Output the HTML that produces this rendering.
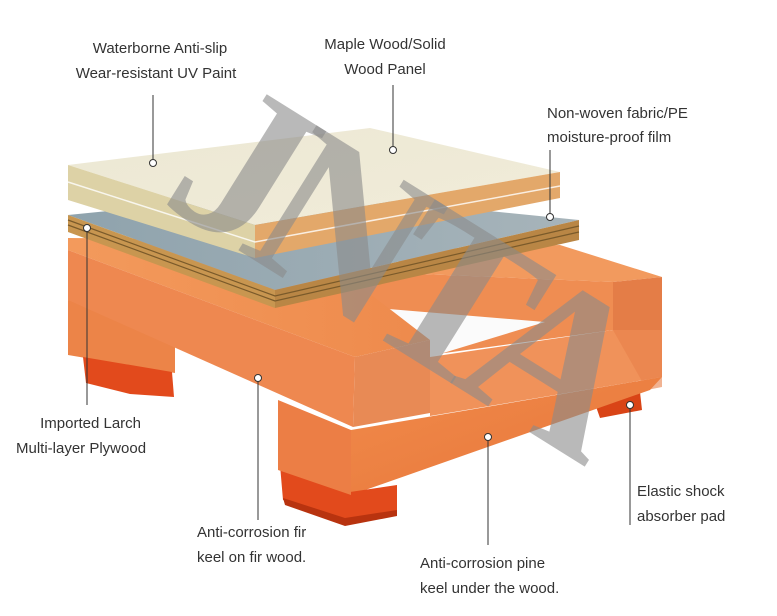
<!DOCTYPE html>
<html><head><meta charset="utf-8"><style>
html,body{margin:0;padding:0;background:#fff;}
.w{position:relative;width:777px;height:616px;overflow:hidden;font-family:"Liberation Sans",sans-serif;}
svg{position:absolute;left:0;top:0;}
</style></head><body><div class="w">
<svg width="777" height="616" viewBox="0 0 777 616">
<defs>
<linearGradient id="or" x1="0" y1="0" x2="1" y2="1"><stop offset="0" stop-color="#f08a4a"/><stop offset="1" stop-color="#e8763a"/></linearGradient>
<linearGradient id="ortop" x1="0" y1="0" x2="1" y2="0"><stop offset="0" stop-color="#f39a5c"/><stop offset="1" stop-color="#ee8a4c"/></linearGradient>
<linearGradient id="top" x1="0" y1="0" x2="1" y2="1"><stop offset="0" stop-color="#ece8d4"/><stop offset="1" stop-color="#f1ecd9"/></linearGradient>
<linearGradient id="film" x1="0" y1="0" x2="1" y2="0"><stop offset="0" stop-color="#8fa3ad"/><stop offset="1" stop-color="#a7b4ba"/></linearGradient>
</defs>
<polygon points="400,250 560,245 662,277 613,282 397,273" fill="#f29a5e"/>
<polygon points="340,265 397,273 613,282 613,330 430,355 340,307" fill="#ef8d52"/>
<polygon points="340,305 545,322 430,357" fill="#fbfbfb"/>
<polygon points="613,282 662,277 662,332 613,332" fill="#e47d47"/>
<polygon points="430,357 613,330 662,330 662,377 430,416" fill="#f0925a"/>
<polygon points="613,330 662,330 662,387 647,390" fill="#e8804a" opacity="0.6"/>
<polygon points="593,398 640,392 642,410 600,418" fill="#d94416"/>
<polygon points="351,430 662,377 650,390 351,495" fill="url(#or)"/>
<polygon points="280,465 350,492 397,485 397,512 345,522 283,500" fill="#e24a1c"/>
<polygon points="283,498 345,518 397,510 397,516 345,526 285,505" fill="#b8330f"/>
<polygon points="278,400 351,430 351,495 278,470" fill="#ec7e45"/>
<polygon points="68,300 175,320 175,373 68,355" fill="#ec8448"/>
<polygon points="83,357 172,372 174,397 130,394 86,383" fill="#e24a1c"/>
<polygon points="68,238 300,240 430,340 355,357 68,250" fill="url(#ortop)"/>
<polygon points="68,250 355,357 353,427 68,300" fill="#ee8850"/>
<polygon points="355,357 430,340 430,413 353,427" fill="#e88a55"/>
<polygon points="68,215 300,192 579,220 275,290" fill="url(#film)"/>
<polygon points="68,215 275,290 275,308 68,232" fill="#c89650"/>
<polygon points="275,290 579,220 579,240 275,308" fill="#b98645"/>
<path d="M68,220 L275,296 L579,226 M68,225 L275,301 L579,232" stroke="#7a5a2a" stroke-width="1.2" fill="none"/>
<polygon points="68,165 370,128 560,172 255,225" fill="url(#top)"/>
<polygon points="68,165 255,225 255,258 68,200" fill="#ddd2a6"/>
<polygon points="255,225 560,172 560,198 255,258" fill="#e3a86a"/>
<path d="M68,182 L255,242 L560,186" stroke="#fff" stroke-width="1.5" fill="none" opacity="0.8"/>
<text x="0" y="0" transform="translate(158,200) rotate(32)" font-family="Liberation Serif,serif" font-weight="bold" font-size="225" letter-spacing="-22" fill="#8a8a8a" fill-opacity="0.6">JNTA</text>
<g stroke="#333" stroke-width="1" fill="#fff">
<line x1="153" y1="95" x2="153" y2="163"/><circle cx="153" cy="163" r="3.5"/>
<line x1="393" y1="85" x2="393" y2="150"/><circle cx="393" cy="150" r="3.5"/>
<line x1="550" y1="150" x2="550" y2="217"/><circle cx="550" cy="217" r="3.5"/>
<line x1="87" y1="228" x2="87" y2="405"/><circle cx="87" cy="228" r="3.5"/>
<line x1="258" y1="378" x2="258" y2="520"/><circle cx="258" cy="378" r="3.5"/>
<line x1="488" y1="437" x2="488" y2="545"/><circle cx="488" cy="437" r="3.5"/>
<line x1="630" y1="405" x2="630" y2="525"/><circle cx="630" cy="405" r="3.5"/>
</g>
<g font-family="Liberation Sans,sans-serif" font-size="15" fill="#333">
<text x="160" y="53" text-anchor="middle">Waterborne Anti-slip</text>
<text x="156" y="78" text-anchor="middle">Wear-resistant UV Paint</text>
<text x="385" y="49" text-anchor="middle">Maple Wood/Solid</text>
<text x="385" y="74" text-anchor="middle">Wood Panel</text>
<text x="547" y="118">Non-woven fabric/PE</text>
<text x="547" y="142">moisture-proof film</text>
<text x="141" y="428" text-anchor="end">Imported Larch</text>
<text x="16" y="453">Multi-layer Plywood</text>
<text x="197" y="537">Anti-corrosion fir</text>
<text x="197" y="562">keel on fir wood.</text>
<text x="420" y="568">Anti-corrosion pine</text>
<text x="420" y="593">keel under the wood.</text>
<text x="637" y="496">Elastic shock</text>
<text x="637" y="521">absorber pad</text>
</g>
</svg>
</div></body></html>
